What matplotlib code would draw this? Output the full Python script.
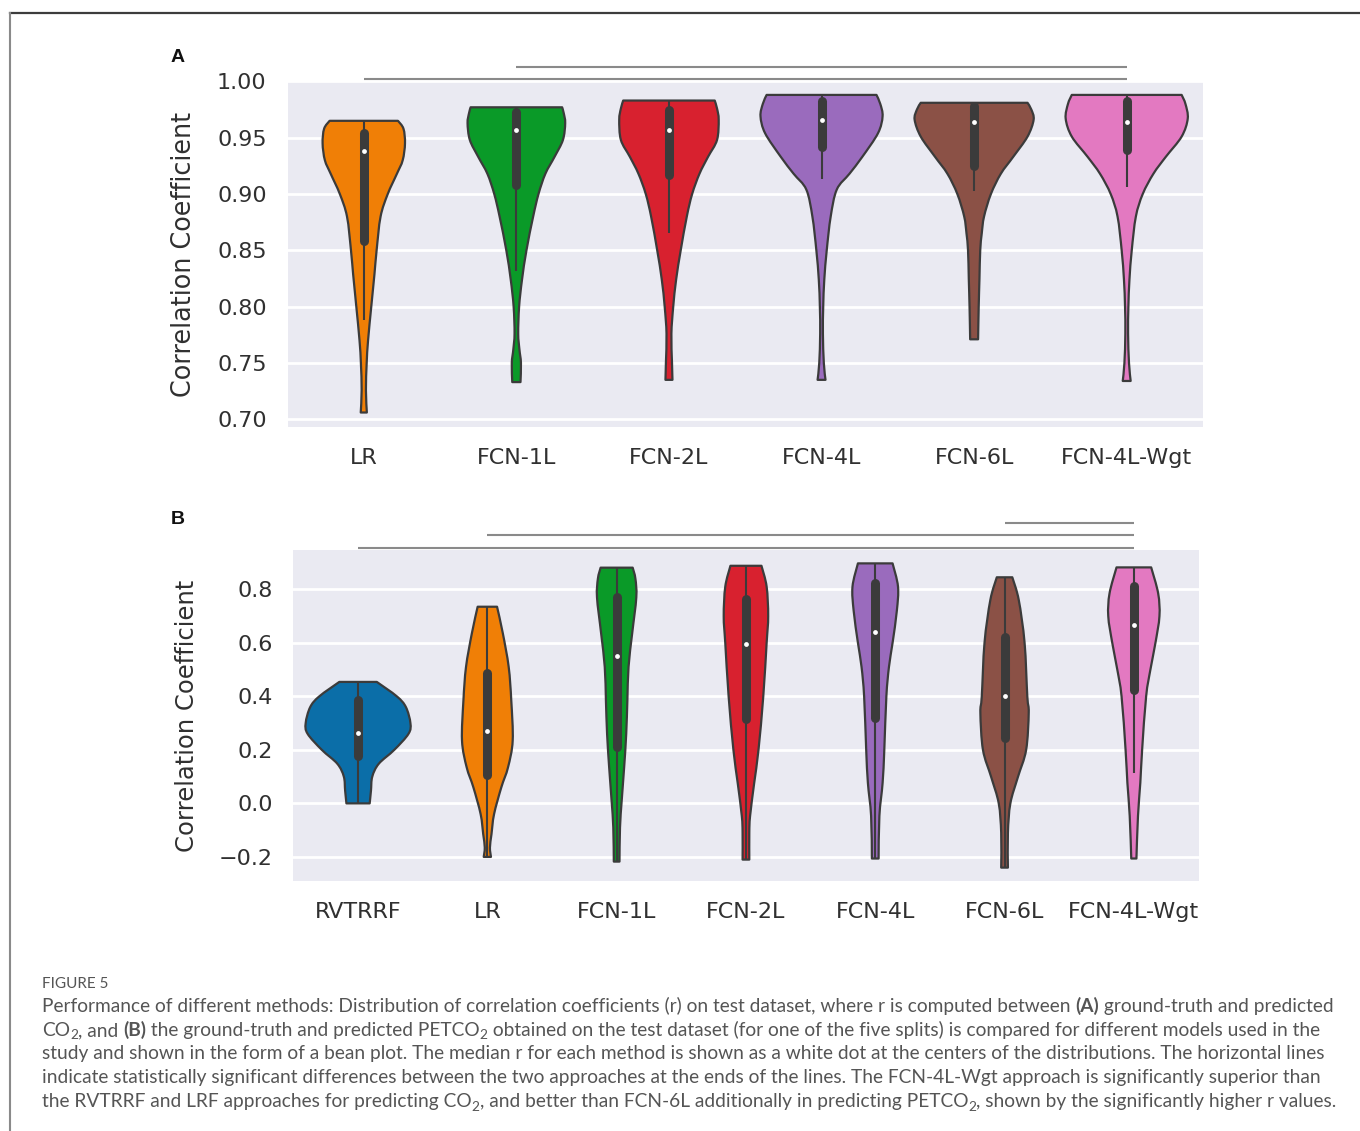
import matplotlib
matplotlib.use("Agg")
import matplotlib.pyplot as plt
from matplotlib.path import Path
from matplotlib.patches import PathPatch
from matplotlib.lines import Line2D

# ---------------- data ----------------
A_categories = ["LR", "FCN-1L", "FCN-2L", "FCN-4L", "FCN-6L", "FCN-4L-Wgt"]
A_colors = ["#f07f06", "#0a9a28", "#d8212f", "#9a6bbd", "#8b5146", "#e379c1"]
# violin outline: value levels and half-widths (category units)
A_levels = {
    "LR":         [0.706, 0.726, 0.750, 0.770, 0.800, 0.829, 0.850, 0.880, 0.900, 0.918, 0.930, 0.945, 0.958, 0.965],
    "FCN-1L":     [0.733, 0.750, 0.762, 0.776, 0.800, 0.824, 0.850, 0.880, 0.900, 0.918, 0.933, 0.948, 0.963, 0.972, 0.977],
    "FCN-2L":     [0.735, 0.750, 0.776, 0.800, 0.824, 0.850, 0.880, 0.900, 0.918, 0.933, 0.948, 0.966, 0.976, 0.983],
    "FCN-4L":     [0.735, 0.750, 0.776, 0.800, 0.824, 0.850, 0.880, 0.904, 0.918, 0.933, 0.954, 0.969, 0.980, 0.988],
    "FCN-6L":     [0.771, 0.800, 0.825, 0.850, 0.865, 0.880, 0.900, 0.918, 0.933, 0.951, 0.966, 0.975, 0.981],
    "FCN-4L-Wgt": [0.734, 0.750, 0.776, 0.800, 0.824, 0.850, 0.880, 0.900, 0.918, 0.933, 0.951, 0.967, 0.980, 0.988],
}
A_widths = {
    "LR":         [0.020, 0.014, 0.019, 0.028, 0.049, 0.070, 0.084, 0.110, 0.157, 0.217, 0.255, 0.270, 0.260, 0.224],
    "FCN-1L":     [0.027, 0.030, 0.020, 0.012, 0.018, 0.037, 0.066, 0.110, 0.145, 0.190, 0.250, 0.305, 0.320, 0.310, 0.300],
    "FCN-2L":     [0.023, 0.020, 0.016, 0.028, 0.047, 0.077, 0.117, 0.152, 0.200, 0.256, 0.315, 0.326, 0.315, 0.300],
    "FCN-4L":     [0.026, 0.015, 0.009, 0.011, 0.018, 0.034, 0.060, 0.100, 0.183, 0.267, 0.370, 0.400, 0.385, 0.360],
    "FCN-6L":     [0.026, 0.030, 0.035, 0.040, 0.050, 0.065, 0.110, 0.175, 0.256, 0.350, 0.390, 0.375, 0.350],
    "FCN-4L-Wgt": [0.026, 0.015, 0.009, 0.011, 0.018, 0.033, 0.060, 0.105, 0.175, 0.256, 0.360, 0.400, 0.385, 0.360],
}
A_q1 = [0.858, 0.908, 0.917, 0.942, 0.925, 0.939]
A_median = [0.938, 0.957, 0.957, 0.966, 0.964, 0.964]
A_q3 = [0.954, 0.973, 0.975, 0.983, 0.978, 0.983]
A_whisk_lo = [0.788, 0.832, 0.865, 0.913, 0.903, 0.906]
A_whisk_hi = [0.965, 0.977, 0.983, 0.988, 0.981, 0.988]
A_yticks = [0.70, 0.75, 0.80, 0.85, 0.90, 0.95, 1.00]
A_sig_pairs = [("LR", "FCN-4L-Wgt", 1.002), ("FCN-1L", "FCN-4L-Wgt", 1.013)]

B_categories = ["RVTRRF", "LR", "FCN-1L", "FCN-2L", "FCN-4L", "FCN-6L", "FCN-4L-Wgt"]
B_colors = ["#0b6ea8", "#f07f06", "#0a9a28", "#d8212f", "#9a6bbd", "#8b5146", "#e379c1"]
B_levels = {
    "RVTRRF":     [0.000, 0.048, 0.100, 0.148, 0.200, 0.260, 0.300, 0.360, 0.400, 0.454],
    "LR":         [-0.200, -0.165, -0.115, -0.040, 0.060, 0.135, 0.235, 0.385, 0.510, 0.635, 0.735],
    "FCN-1L":     [-0.2175, -0.090, 0.010, 0.135, 0.260, 0.385, 0.510, 0.635, 0.770, 0.840, 0.881],
    "FCN-2L":     [-0.210, -0.110, -0.047, 0.077, 0.200, 0.400, 0.600, 0.700, 0.810, 0.888],
    "FCN-4L":     [-0.206, -0.047, 0.077, 0.200, 0.400, 0.510, 0.600, 0.720, 0.810, 0.897],
    "FCN-6L":     [-0.240, -0.110, 0.000, 0.098, 0.200, 0.338, 0.400, 0.600, 0.760, 0.845],
    "FCN-4L-Wgt": [-0.206, -0.047, 0.077, 0.200, 0.400, 0.500, 0.600, 0.700, 0.785, 0.882],
}
B_widths = {
    "RVTRRF":     [0.090, 0.100, 0.110, 0.160, 0.280, 0.390, 0.405, 0.370, 0.300, 0.145],
    "LR":         [0.028, 0.020, 0.032, 0.052, 0.108, 0.160, 0.196, 0.185, 0.165, 0.120, 0.075],
    "FCN-1L":     [0.022, 0.026, 0.039, 0.058, 0.074, 0.083, 0.092, 0.120, 0.152, 0.145, 0.124],
    "FCN-2L":     [0.026, 0.026, 0.032, 0.064, 0.097, 0.134, 0.160, 0.172, 0.160, 0.120],
    "FCN-4L":     [0.026, 0.032, 0.057, 0.070, 0.086, 0.106, 0.134, 0.167, 0.176, 0.134],
    "FCN-6L":     [0.026, 0.026, 0.045, 0.103, 0.167, 0.187, 0.176, 0.155, 0.110, 0.060],
    "FCN-4L-Wgt": [0.020, 0.032, 0.050, 0.064, 0.095, 0.128, 0.167, 0.198, 0.188, 0.134],
}
B_q1 = [0.179, 0.1075, 0.210, 0.315, 0.319, 0.245, 0.422]
B_median = [0.263, 0.269, 0.550, 0.596, 0.640, 0.402, 0.666]
B_q3 = [0.388, 0.4875, 0.7725, 0.763, 0.822, 0.621, 0.812]
B_whisk_lo = [0.000, -0.200, -0.2175, -0.210, -0.206, -0.240, 0.114]
B_whisk_hi = [0.454, 0.735, 0.881, 0.888, 0.897, 0.845, 0.882]
B_yticks = [-0.2, 0.0, 0.2, 0.4, 0.6, 0.8]
B_sig_pairs = [("RVTRRF", "FCN-4L-Wgt", 0.954), ("LR", "FCN-4L-Wgt", 1.003),
               ("FCN-6L", "FCN-4L-Wgt", 1.049)]

caption_head = "FIGURE 5"
caption_lines = [
    [("Performance of different methods: Distribution of correlation coefficients (r) on test dataset, where r is computed between ", "n"),
     ("(A)", "b"), (" ground-truth and predicted", "n")],
    [("CO", "n"), ("2", "s"), (", and ", "n"), ("(B)", "b"),
     (" the ground-truth and predicted PETCO", "n"), ("2", "s"),
     (" obtained on the test dataset (for one of the five splits) is compared for different models used in the", "n")],
    [("study and shown in the form of a bean plot. The median r for each method is shown as a white dot at the centers of the distributions. The horizontal lines", "n")],
    [("indicate statistically significant differences between the two approaches at the ends of the lines. The FCN-4L-Wgt approach is significantly superior than", "n")],
    [("the RVTRRF and LRF approaches for predicting CO", "n"), ("2", "s"),
     (", and better than FCN-6L additionally in predicting PETCO", "n"), ("2", "s"),
     (", shown by the significantly higher r values.", "n")],
]

# ---------------- figure ----------------
W, H, DPI = 1360, 1131, 100
fig = plt.figure(figsize=(W / DPI, H / DPI), dpi=DPI)
fig.patch.set_facecolor("white")

EDGE = "#3b3b3b"
TXT = "#303030"


def px_rect(left, top, right, bottom):
    return [left / W, 1 - bottom / H, (right - left) / W, (bottom - top) / H]


def side_path(pts):
    """Smooth (Catmull-Rom as Bezier) path through pts, excluding first point."""
    verts, codes = [], []
    n = len(pts)
    for i in range(n - 1):
        p0 = pts[max(i - 1, 0)]
        p1 = pts[i]
        p2 = pts[i + 1]
        p3 = pts[min(i + 2, n - 1)]
        c1 = (p1[0] + (p2[0] - p0[0]) / 6.0, p1[1] + (p2[1] - p0[1]) / 6.0)
        c2 = (p2[0] - (p3[0] - p1[0]) / 6.0, p2[1] - (p3[1] - p1[1]) / 6.0)
        verts += [c1, c2, p2]
        codes += [Path.CURVE4] * 3
    return verts, codes


def draw_violin(ax, c, levels, widths, color):
    left = [(c - w, y) for y, w in zip(levels, widths)]
    right = [(c + w, y) for y, w in zip(levels[::-1], widths[::-1])]
    verts = [left[0]]
    codes = [Path.MOVETO]
    v, cd = side_path(left)
    verts += v
    codes += cd
    verts.append(right[0])
    codes.append(Path.LINETO)
    v, cd = side_path(right)
    verts += v
    codes += cd
    verts.append(left[0])
    codes.append(Path.CLOSEPOLY)
    patch = PathPatch(Path(verts, codes), facecolor=color, edgecolor=EDGE,
                      lw=1.6, joinstyle="round", zorder=2)
    ax.add_patch(patch)


def draw_panel(ax, cats, colors, levels, widths, q1, med, q3, lo, hi,
               yticks, ylim, sig_pairs, ylabel_size, ylabel_x):
    ax.set_facecolor("#eaeaf2")
    for s in ax.spines.values():
        s.set_visible(False)
    ax.set_axisbelow(True)
    ax.yaxis.grid(True, color="white", lw=2.0)
    ax.xaxis.grid(False)
    for i, cat in enumerate(cats):
        draw_violin(ax, i, levels[cat], widths[cat], colors[i])
        ax.plot([i, i], [lo[i], hi[i]], color=EDGE, lw=1.5, zorder=3,
                solid_capstyle="butt")
        ax.plot([i, i], [q1[i], q3[i]], color=EDGE, lw=6.5, zorder=3,
                solid_capstyle="round")
        ax.scatter([i], [med[i]], s=12, color="white", zorder=4, lw=0)
    for a, b, lev in sig_pairs:
        ax.plot([cats.index(a), cats.index(b)], [lev, lev], color="#8a8a8a",
                lw=1.5, clip_on=False, zorder=5, solid_capstyle="butt")
    ax.set_xlim(-0.5, len(cats) - 0.5)
    ax.set_ylim(*ylim)
    ax.set_xticks(range(len(cats)))
    ax.set_xticklabels(cats)
    ax.set_yticks(yticks)
    ax.tick_params(axis="both", length=0, labelsize=16, labelcolor=TXT, pad=15)
    ax.set_ylabel("Correlation Coefficient", fontsize=ylabel_size, color=TXT)
    ax.yaxis.set_label_coords(ylabel_x, 0.5)


axA = fig.add_axes(px_rect(287.5, 81.4, 1203, 426.7))
draw_panel(axA, A_categories, A_colors, A_levels, A_widths, A_q1, A_median,
           A_q3, A_whisk_lo, A_whisk_hi, A_yticks, (0.6934, 1.0), A_sig_pairs,
           18.4, -0.099)
axA.set_yticklabels([f"{t:.2f}" for t in A_yticks])

axB = fig.add_axes(px_rect(293.4, 550, 1198.5, 881))
draw_panel(axB, B_categories, B_colors, B_levels, B_widths, B_q1, B_median,
           B_q3, B_whisk_lo, B_whisk_hi, B_yticks, (-0.29, 0.947), B_sig_pairs,
           17.5, -0.104)
axB.set_yticklabels([f"{t:.1f}".replace("-", "\u2212") for t in B_yticks])

# panel letters
fig.text(178 / W, 1 - 57 / H, "A", fontsize=14, fontweight="bold",
         family="Liberation Sans", ha="center", va="center", color="#111111")
fig.text(178 / W, 1 - 520 / H, "B", fontsize=14, fontweight="bold",
         family="Liberation Sans", ha="center", va="center", color="#111111")

# frame
fig.add_artist(Line2D([10 / W, 1.0], [1 - 13 / H, 1 - 13 / H], color="#3c3c3c",
                      lw=1.6, transform=fig.transFigure))
fig.add_artist(Line2D([10 / W, 10 / W], [1 - 13 / H, 0.0], color="#8a8a8a",
                      lw=1.5, transform=fig.transFigure))

# caption
CAP_FONT = "Lato"
CAP_COLOR = "#555555"
renderer = fig.canvas.get_renderer()


def seg_width(text, size, weight):
    t1 = fig.text(0, 0, "|" + text + "|", fontsize=size, fontweight=weight,
                  family=CAP_FONT)
    t2 = fig.text(0, 0, "||", fontsize=size, fontweight=weight, family=CAP_FONT)
    w = t1.get_window_extent(renderer).width - t2.get_window_extent(renderer).width
    t1.remove()
    t2.remove()
    return w


def line_width(segs, size):
    tot = 0
    for txt, st in segs:
        fs = size * 0.72 if st == "s" else size
        wt = "bold" if st == "b" else "normal"
        tot += seg_width(txt, fs, wt)
    return tot


base_size = 12.0
w0 = line_width(caption_lines[0], base_size)
cap_size = base_size * (1331 - 42) / w0

fig.text(42 / W, 1 - 988 / H, caption_head, fontsize=cap_size * 0.8,
         family=CAP_FONT, color=CAP_COLOR, va="baseline", ha="left")

baselines = [1012, 1036, 1059.5, 1083, 1107.5]
for segs, base in zip(caption_lines, baselines):
    x = 42.0
    for txt, st in segs:
        fs = cap_size * 0.72 if st == "s" else cap_size
        wt = "bold" if st == "b" else "normal"
        yoff = cap_size * 0.17 * DPI / 72 if st == "s" else 0
        fig.text(x / W, 1 - (base + yoff) / H, txt, fontsize=fs, fontweight=wt,
                 family=CAP_FONT, color=CAP_COLOR, va="baseline", ha="left")
        x += seg_width(txt, fs, wt)

fig.savefig("out.png", dpi=DPI, facecolor="white")
